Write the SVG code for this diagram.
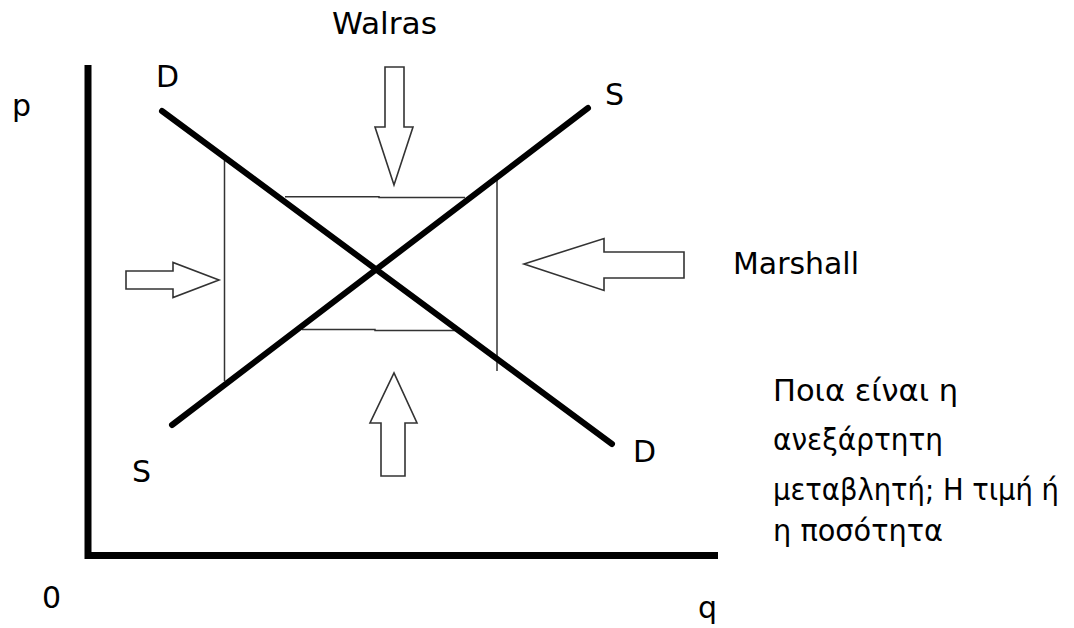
<svg xmlns="http://www.w3.org/2000/svg" width="1074" height="628" viewBox="0 0 1074 628">
  <style>
    .lbl { font-family: "DejaVu Sans", "Liberation Sans", sans-serif; font-size: 30px; fill: #000; }
    .gr { font-family: "DejaVu Sans", "Liberation Sans", sans-serif; font-size: 30px; fill: #000; }
    .axis { stroke: #000; stroke-width: 7; fill: none; }
    .curve { stroke: #000; stroke-width: 6; stroke-linecap: round; fill: none; }
    .thin { stroke: #333; stroke-width: 1.5; fill: none; }
    .arrow { stroke: #333; stroke-width: 1.6; fill: #fff; stroke-linejoin: miter; }
  </style>
  <rect width="1074" height="628" fill="#fff"/>

  <g id="axes">
    <polyline class="axis" points="88,65 88,555.5 718,555.5"/>
  </g>

  <g id="frame">
    <line class="thin" x1="224.5" y1="160" x2="224.5" y2="381"/>
    <line class="thin" x1="497" y1="180" x2="497" y2="371"/>
    <polyline class="thin" points="285,196.7 379,196.7 379,197.4 465,197.4"/>
    <polyline class="thin" points="302,329.5 375,329.5 375,330.4 457,330.4"/>
  </g>

  <g id="curves">
    <line id="demand" class="curve" x1="162" y1="111" x2="612" y2="444"/>
    <line id="supply" class="curve" x1="172" y1="425" x2="588" y2="108"/>
  </g>

  <g id="connectors">
    <polygon id="arrow-walras-down" class="arrow" points="385,67 404,67 404,127 413,127 394,185 375,127 385,127"/>
    <polygon id="arrow-up" class="arrow" points="381,476 405,476 405,423 417,423 394,373 370,423 381,423"/>
    <polygon id="arrow-right" class="arrow" points="126,271 173,271 173,262.5 219,280 173,297.5 173,289 126,289"/>
    <polygon id="arrow-marshall-left" class="arrow" points="684,252 604,252 604,238.5 524,264 604,290.5 604,278 684,278"/>
  </g>

  <g id="labels">
    <text id="lbl-walras" class="lbl" x="332" y="34" textLength="105" lengthAdjust="spacingAndGlyphs">Walras</text>
    <text id="lbl-marshall" class="lbl" x="733" y="274" textLength="126" lengthAdjust="spacingAndGlyphs">Marshall</text>
    <text id="lbl-p" class="lbl" x="12" y="116">p</text>
    <text id="lbl-D-top" class="lbl" x="156" y="87">D</text>
    <text id="lbl-S-top" class="lbl" x="605" y="105">S</text>
    <text id="lbl-S-bottom" class="lbl" x="132" y="482">S</text>
    <text id="lbl-D-bottom" class="lbl" x="633" y="462">D</text>
    <text id="lbl-origin" class="lbl" x="42" y="608">0</text>
    <text id="lbl-q" class="lbl" x="698" y="618">q</text>
  </g>

  <g id="question">
    <text class="gr" x="773" y="401" textLength="185" lengthAdjust="spacingAndGlyphs">Ποια είναι η</text>
    <text class="gr" x="773" y="450" textLength="170" lengthAdjust="spacingAndGlyphs">ανεξάρτητη</text>
    <text class="gr" x="773" y="500" font-size="26" textLength="286" lengthAdjust="spacingAndGlyphs">μεταβλητή; Η τιμή ή</text>
    <text class="gr" x="773" y="541" textLength="170" lengthAdjust="spacingAndGlyphs">η ποσότητα</text>
  </g>
</svg>
